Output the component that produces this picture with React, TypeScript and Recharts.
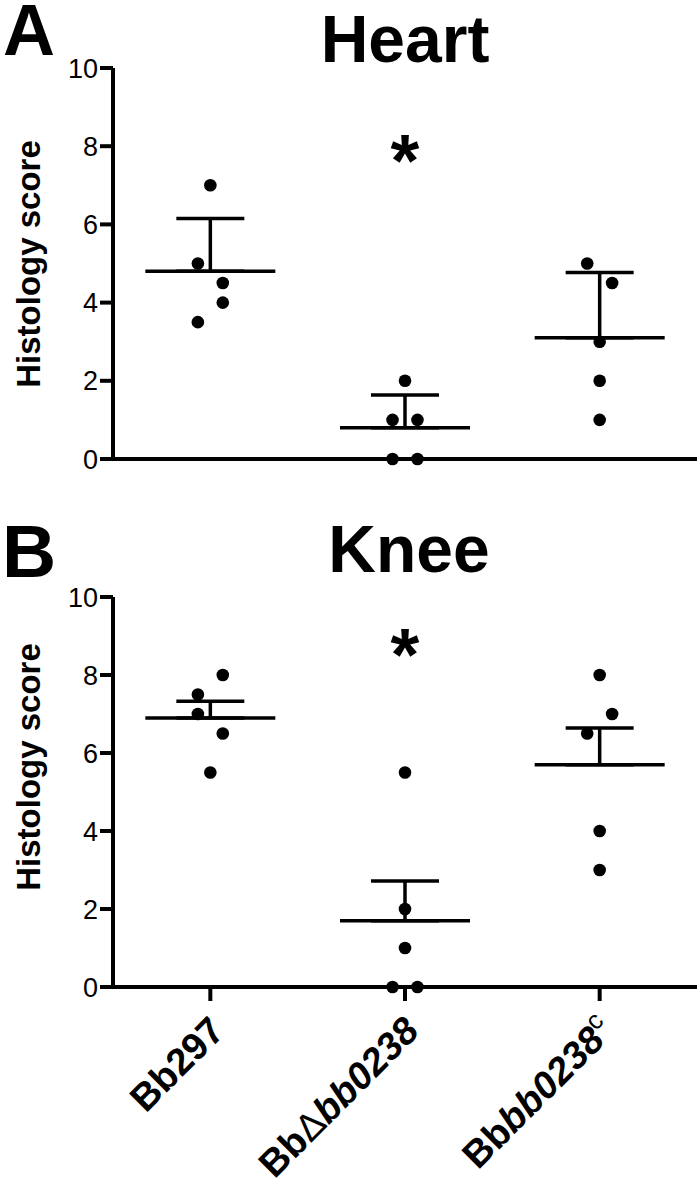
import React from 'react';
import { ScatterChart, Scatter, XAxis, YAxis, ErrorBar } from 'recharts';

const FONT = '"Liberation Sans", Arial, Helvetica, sans-serif';

// Categories (x positions 1..3)
const categories = ['Bb297', 'BbΔbb0238', 'Bbbb0238c'];
const categoryIndex = [1, 2, 3];
const yTicks = [0, 2, 4, 6, 8, 10];

// Heart histology scores (individual mice)
const heartScores = [
  [7, 5, 4.5, 4, 3.5],
  [2, 1, 1, 0, 0],
  [5, 4.5, 3, 2, 1],
];
// side of column scatter each dot is nudged to (-1 left, 0 centre, 1 right)
const heartSides = [
  [0, -1, 1, 1, -1],
  [0, -1, 1, -1, 1],
  [-1, 1, 0, 0, 0],
];
const heartMeans = [4.8, 0.8, 3.1];
const heartErrors = [1.35, 0.84, 1.67];
const heartStar = [{ x: 2, y: 8 }];

// Knee histology scores
const kneeScores = [
  [8, 7.5, 7, 6.5, 5.5],
  [5.5, 2, 1, 0, 0],
  [8, 7, 6.5, 4, 3],
];
const kneeSides = [
  [1, -1, -1, 1, 0],
  [0, 0, 0, -1, 1],
  [0, 1, -1, 0, 0],
];
const kneeMeans = [6.9, 1.7, 5.7];
const kneeErrors = [0.43, 1.02, 0.94];
const kneeStar = [{ x: 2, y: 8.9 }];

const JITTER = 0.064;

const buildPoints = (scores: number[][], sides: number[][]) =>
  scores.flatMap((col, i) =>
    col.map((v, j) => ({ x: categoryIndex[i] + sides[i][j] * JITTER, y: v }))
  );

const buildMeans = (means: number[], errs: number[]) =>
  means.map((m, i) => ({ x: categoryIndex[i], y: m, err: [0, errs[i]] }));

const Dot = (p: any) => <circle cx={p.cx} cy={p.cy} r={6.3} fill="#000" />;

const MeanLine = (p: any) => (
  <line x1={p.cx - 65} x2={p.cx + 65} y1={p.cy} y2={p.cy} stroke="#000" strokeWidth={3.5} />
);

const Star = (p: any) => (
  <text x={p.cx} y={p.cy} dy={40} textAnchor="middle" fontSize={74} fontWeight="bold" fontFamily={FONT} fill="#000">
    *
  </text>
);

const CategoryTick = (props: any) => {
  const { x, y, payload } = props;
  const i = Math.round(payload.value) - 1;
  const common = { fontFamily: FONT, fontSize: 38, fill: '#000' };
  let content: React.ReactNode = null;
  if (i === 0) {
    content = <tspan fontWeight="bold">{categories[0]}</tspan>;
  } else if (i === 1) {
    content = (
      <>
        <tspan fontWeight="bold">Bb</tspan>
        <tspan fontWeight="normal">Δ</tspan>
        <tspan fontWeight="bold" fontStyle="italic">bb0238</tspan>
      </>
    );
  } else {
    content = (
      <>
        <tspan fontWeight="bold">Bb</tspan>
        <tspan fontWeight="bold" fontStyle="italic">bb0238</tspan>
        <tspan fontWeight="normal" fontSize={26} dy={-15}>c</tspan>
      </>
    );
  }
  return (
    <g transform={`translate(${x + 16},${y + 30}) rotate(-45)`}>
      <text x={0} y={0} textAnchor="end" {...common}>
        {content}
      </text>
    </g>
  );
};

const axisLine = { stroke: '#000', strokeWidth: 4 };
const tickLine = { stroke: '#000', strokeWidth: 4 };
const yTickStyle = { fill: '#000', fontSize: 27, fontFamily: FONT };

type PanelProps = {
  height: number;
  top: number;
  bottom: number;
  xAxisHeight: number;
  points: { x: number; y: number }[];
  means: { x: number; y: number; err: number[] }[];
  star: { x: number; y: number }[];
  showLabels: boolean;
};

const Panel = ({ height, top, bottom, xAxisHeight, points, means, star, showLabels }: PanelProps) => (
  <ScatterChart width={700} height={height} margin={{ top, right: 3, bottom, left: 0 }}>
    <XAxis
      type="number"
      dataKey="x"
      domain={[0.5, 3.5]}
      ticks={categoryIndex}
      axisLine={axisLine}
      tickLine={tickLine}
      tickSize={14}
      height={xAxisHeight}
      tick={showLabels ? <CategoryTick /> : false}
      interval={0}
    />
    <YAxis
      type="number"
      dataKey="y"
      domain={[0, 10]}
      ticks={yTicks}
      width={113}
      axisLine={axisLine}
      tickLine={tickLine}
      tickSize={13}
      tickMargin={2}
      tick={yTickStyle}
      interval={0}
    />
    <Scatter data={means} shape={<MeanLine />} isAnimationActive={false}>
      <ErrorBar dataKey="err" direction="y" width={34} stroke="#000" strokeWidth={3.5} isAnimationActive={false} />
    </Scatter>
    <Scatter data={points} shape={<Dot />} isAnimationActive={false} />
    <Scatter data={star} shape={<Star />} isAnimationActive={false} />
  </ScatterChart>
);

export default function App() {
  const heartPoints = buildPoints(heartScores, heartSides);
  const kneePoints = buildPoints(kneeScores, kneeSides);
  return (
    <div style={{ position: 'absolute', left: 0, top: 0, width: 700, height: 1187, background: '#fff' }}>
      <div style={{ position: 'absolute', left: 0, top: 0 }}>
        <Panel
          height={500}
          top={68}
          bottom={11}
          xAxisHeight={30}
          points={heartPoints}
          means={buildMeans(heartMeans, heartErrors)}
          star={heartStar}
          showLabels={false}
        />
      </div>
      <div style={{ position: 'absolute', left: 0, top: 500 }}>
        <Panel
          height={687}
          top={97}
          bottom={10}
          xAxisHeight={190}
          points={kneePoints}
          means={buildMeans(kneeMeans, kneeErrors)}
          star={kneeStar}
          showLabels={true}
        />
      </div>
      <svg
        width={700}
        height={1187}
        style={{ position: 'absolute', left: 0, top: 0, pointerEvents: 'none' }}
        fontFamily={FONT}
      >
        <text x={3} y={55} fontSize={72} fontWeight="bold" fill="#000">A</text>
        <text x={405} y={62} fontSize={66} fontWeight="bold" textAnchor="middle" fill="#000">Heart</text>
        <text x={40} y={264} fontSize={33} fontWeight="bold" textAnchor="middle" fill="#000" transform="rotate(-90, 40, 264)">
          Histology score
        </text>
        <text x={2} y={577} fontSize={75} fontWeight="bold" fill="#000">B</text>
        <text x={409} y={572} fontSize={66} fontWeight="bold" textAnchor="middle" fill="#000">Knee</text>
        <text x={40} y={767} fontSize={33} fontWeight="bold" textAnchor="middle" fill="#000" transform="rotate(-90, 40, 767)">
          Histology score
        </text>
      </svg>
    </div>
  );
}
